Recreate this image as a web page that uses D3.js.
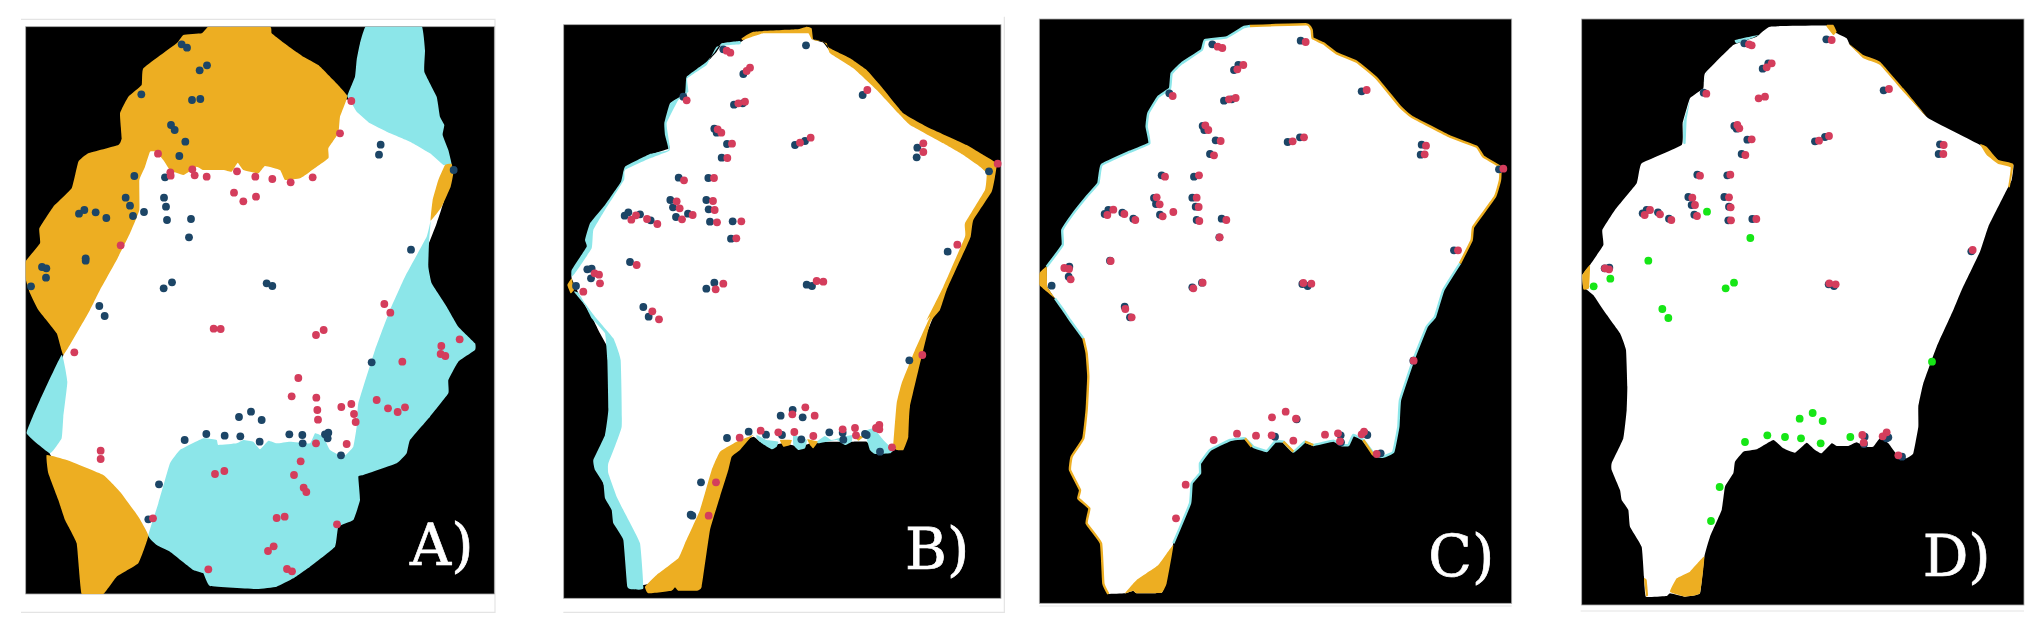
<!DOCTYPE html>
<html>
<head>
  <script src="https://d3js.org/d3.v7.min.js"></script>
  <style>
    html, body { margin: 0; padding: 0; background: white; overflow: hidden; }
    svg { display: block; }
    text { font-family: 'DejaVu Serif', serif; fill: white; stroke: white; stroke-width: 0.7; }
  </style>
</head>
<body>
<svg id="chart" width="2043" height="622"></svg>
<script>
  // everything below in trace units (3 units = 1 pixel),
  // low() is for points read from the lower half, which starts 900 units further down
  const low = pts => pts.map(p => [p[0], p[1] + 900]);

  // ---------- panel A
  const aWhite = [[600,300],[1020,270],[1320,465],[1280,640],[1060,1200],[1060,1300],[1055,1370],[900,1400],[600,1400],[415,1577],[120,1333],[160,1035],[300,700],[430,400]];
  const aOrangeTop = [[42,760],[90,700],[88,655],[130,590],[185,535],[205,455],[235,430],[325,405],[335,385],[330,310],[355,260],[395,225],[400,175],[500,100],[520,75],[575,70],[595,50],[650,50],[780,50],[785,70],[830,105],[880,140],[925,165],[970,210],[1012,258],[990,320],[985,370],[955,415],[955,445],[900,485],[870,505],[825,510],[810,480],[765,468],[745,490],[700,480],[683,458],[665,485],[640,480],[580,480],[560,470],[520,495],[480,480],[460,450],[440,425],[420,425],[405,470],[388,510],[388,600],[360,670],[320,750],[270,840],[240,900],[200,970],[160,1035],[140,970],[85,900],[60,850],[45,800]];
  const aOrangeRight = [[1325,462],[1305,465],[1285,510],[1268,570],[1262,632],[1295,590],[1322,530],[1330,490]];
  const aOrangeLow = low([[110,435],[115,490],[145,570],[165,630],[200,700],[215,852],[280,852],[320,800],[385,760],[415,677],[385,620],[330,545],[280,495],[170,450]]);
  const aCyanTop = [[1068,48],[1150,46],[1235,48],[1245,120],[1243,185],[1280,260],[1290,320],[1303,345],[1298,375],[1315,420],[1325,465],[1300,465],[1260,430],[1200,395],[1130,365],[1080,340],[1040,305],[1025,280],[1012,258],[1035,200],[1040,150],[1050,100]];
  const aCyanBig = [[1262,632],[1257,700],[1255,770],[1265,820],[1310,890]].concat(low([[1345,50],[1395,100],[1395,120],[1345,155],[1315,210],[1315,250],[1260,320],[1200,390],[1190,430],[1160,460],[1060,495],[1045,500],[1050,570],[1030,630],[985,650],[975,710],[900,770],[850,805],[800,830],[740,837],[600,828],[580,790],[550,780],[480,725],[440,705],[415,677],[445,580],[480,460],[510,420],[580,385],[620,390],[625,405],[680,400],[700,390],[730,395],[750,418],[775,392],[800,400],[840,395],[900,400],[915,370],[940,380],[960,420],[1000,440],[1030,410],[1040,350],[1045,280],[1095,120],[1140,0]])).concat([[1185,800],[1250,680]]);
  const aCyanLeft = low([[155,135],[172,215],[160,320],[155,385],[120,430],[50,370],[90,270]]);
  const aNavy = [[515,103],[531,113],[591,166],[569,181],[394,253],[571,267],[546,270],[483,345],[494,360],[526,395],[508,438],[373,498],[465,502],[347,563],[360,587],[462,563],[468,590],[207,611],[223,600],[257,607],[289,624],[369,618],[402,606],[471,630],[543,627],[537,682],[1112,404],[1107,434],[1331,480],[1203,719],[227,745],[227,752],[96,771],[109,775],[108,803],[63,829],[486,817],[461,835],[770,820],[787,828],[268,888],[284,918]]
    .concat(low([[1085,157],[687,321],[723,305],[755,330],[524,390],[589,372],[644,377],[691,379],[749,395],[838,373],[877,375],[878,400],[945,373],[955,368],[953,385],[993,436],[447,523],[415,628]]));
  const aRed = [[1024,273],[990,370],[444,431],[481,487],[482,497],[547,478],[554,496],[590,500],[681,484],[736,500],[787,507],[842,517],[908,502],[672,548],[700,574],[738,560],[332,706],[1123,882],[1141,908]]
    .concat(low([[611,56],[632,57],[918,75],[941,60],[1349,88],[1294,108],[1292,132],[1306,138],[1177,155],[193,127],[865,204],[845,259],[919,263],[1100,270],[1134,295],[1163,306],[1185,292],[994,291],[1024,282],[1032,312],[1037,336],[922,300],[924,329],[918,400],[1010,402],[272,422],[272,447],[872,454],[615,492],[643,483],[852,495],[881,533],[889,546],[800,624],[824,620],[429,625],[981,643],[791,709],[774,723],[595,778],[831,777],[846,784]]));

  // ---------- panel B
  const bWhite = [[570,98],[610,70],[740,65],[775,62],[788,88],[820,98],[838,120],[900,155],[948,190],[985,232],[1052,310],[1125,350],[1245,415],[1300,445],[1335,465],[1325,520],[1315,550],[1262,640],[1252,680],[1232,730],[1185,840],[1150,920]]
    .concat(low([[1110,120],[1060,280],[1050,400],[1040,415],[1010,425],[975,425],[950,395],[900,395],[860,395],[810,395],[780,400],[750,410],[700,400],[670,405],[630,395],[610,380],[540,410],[500,480],[470,600],[420,720],[310,815],[280,825],[250,830],[240,700],[195,610],[160,520],[150,460],[190,370],[190,150],[150,70],[120,10]]))
    .concat([[95,870],[65,805],[68,785],[112,712],[110,690],[122,650],[165,590],[216,515],[225,475],[300,435],[358,415],[350,375],[347,340],[362,280],[410,250],[410,205],[470,158],[500,125],[515,105]]);
  const bCyanTop = [[570,93],[515,100],[495,125],[470,155],[410,200],[405,250],[360,280],[343,340],[345,375],[355,420],[300,432],[225,470],[213,515],[165,585],[120,640],[105,690],[110,710],[65,780],[65,800],[75,790],[125,715],[130,660],[165,600],[222,510],[225,480],[300,445],[358,422],[358,400],[350,340],[385,270],[415,245],[412,205],[470,165],[500,110],[570,103]];
  const bCyanLeft = [[72,845],[105,885]].concat(low([[125,25],[165,70],[172,150],[175,300],[165,375],[130,450],[135,480],[160,520],[165,565],[185,600],[190,640],[220,690],[232,830],[250,838],[280,835],[270,700],[225,610],[200,560],[175,490],[175,460],[215,350],[212,150],[190,85],[135,20],[105,-20]]),[[85,848]]);
  const bOrangeNub = [[65,805],[52,825],[62,850],[72,840],[68,820]];
  const bOrangeRight = [[575,85],[610,65],[740,58],[770,50],[785,55],[790,90],[820,95],[840,115],[900,145],[950,180],[990,225],[1060,310],[1130,350],[1250,405],[1300,435],[1340,460],[1335,500],[1325,545],[1270,630],[1262,680],[1240,730],[1190,840],[1170,900]]
    .concat(low([[1140,40],[1080,290],[1075,380],[1060,420],[1040,420],[1030,405],[1040,280],[1055,220],[1095,120],[1140,20]]))
    .concat([[1130,930],[1180,830],[1245,680],[1245,640],[1305,540],[1310,490],[1290,470],[1240,435],[1180,400],[1080,345],[1045,310],[980,240],[910,175],[840,130],[830,100],[800,90],[785,88],[775,70],[740,70],[640,70],[580,90]]);
  const bOrangeLow = low([[285,830],[320,795],[385,745],[405,700],[450,600],[485,480],[510,425],[560,395],[610,375],[600,385],[570,420],[545,440],[535,480],[510,560],[480,660],[455,830],[440,842],[385,842],[375,832],[365,842],[295,850]]);
  const bBumpsCyan = [
    low([[620,375],[650,390],[685,395],[680,410],[665,418],[635,400],[620,385]]),
    low([[730,375],[770,390],[765,415],[745,420],[730,405]]),
    low([[800,395],[825,378],[845,390],[890,378],[908,375],[905,395],[885,405],[860,390],[805,400]]),
    low([[945,365],[970,355],[1000,390],[1030,420],[1020,430],[975,432],[960,420]])
  ];
  const bBumpsOrange = [
    low([[690,390],[725,390],[720,405],[700,410]]),
    low([[772,388],[803,395],[790,415],[780,405]]),
    low([[910,375],[940,380],[925,392]])
  ];
  const bNavy = [[520,118],[768,106],[580,192],[400,260],[552,284],[578,280],[938,255],[493,356],[500,368],[531,402],[515,443],[735,405],[765,393],[1102,413],[1100,442],[1317,484],[386,503],[475,504],[469,570],[361,570],[369,592],[476,598],[235,607],[224,617],[270,613],[302,631],[378,621],[414,611],[480,635],[548,634],[543,686],[240,756],[112,778],[125,776],[123,805],[78,828],[493,818],[469,836],[770,824],[786,828],[1193,725],[280,891],[296,920]]
    .concat(low([[1078,151],[692,317],[728,300],[758,322],[531,384],[596,365],[648,374],[696,375],[754,388],[838,367],[878,368],[880,389],[945,372],[950,375],[990,425],[453,517],[422,614],[427,617]]));
  const bRed = [[530,122],[541,128],[600,173],[590,183],[410,271],[565,280],[585,275],[952,240],[503,358],[514,368],[546,401],[532,444],[750,398],[782,383],[1120,400],[1120,426],[1343,461],[402,511],[492,504],[380,574],[389,595],[489,573],[494,600],[258,616],[244,629],[291,627],[322,642],[396,628],[428,615],[501,637],[574,634],[559,685],[1222,704],[260,765],[134,790],[147,794],[150,820],[100,845],[520,821],[497,838],[800,813],[820,815],[307,904],[327,928]]
    .concat(low([[1117,135],[766,292],[794,317],[727,313],[569,383],[632,362],[685,367],[733,366],[790,378],[878,358],[915,354],[918,376],[988,345],[988,358],[978,354],[1026,412],[498,517],[476,617]]));

  // ---------- panel C
  const cEdgeTopRight = [[660,48],[830,43],[845,60],[848,85],[880,100],[920,130],[980,155],[1040,205],[1110,290],[1145,320],[1260,380],[1340,410],[1360,440],[1410,470],[1410,510],[1395,560],[1330,650],[1325,690],[1290,760]];
  const cEdgeRight = [[1290,760],[1240,840],[1215,920]].concat(low([[1190,50],[1150,150],[1110,270],[1105,350],[1090,425],[1060,440],[1035,435],[1000,390],[970,375],[955,405],[935,405],[910,392],[850,405],[825,395],[790,425],[760,395],[735,395],[710,423],[670,410],[645,385],[600,390],[540,420],[510,460],[510,490],[485,520],[480,580],[430,700]]));
  const cEdgeFoot = low([[430,700],[405,820],[395,848],[320,850],[310,842],[285,850],[235,852]]);
  const cEdgeLeft = low([[235,852],[220,820],[213,700],[170,640],[178,595],[145,565],[150,540],[120,480],[125,440],[160,385],[170,300],[175,200],[170,130],[160,85]]);
  const cEdgeShoulder = low([[160,85],[120,30],[100,0]]).concat([[75,865]]);
  const cEdgeNub = [[75,865],[52,830],[50,770]];
  const cEdgeTopLeft = [[50,770],[98,705],[97,660],[130,610],[170,560],[205,520],[215,465],[300,425],[358,400],[350,350],[355,310],[385,260],[420,235],[425,190],[455,160],[515,120],[525,90],[590,82],[640,52],[660,48]];
  const cNubOrange = [[28,790],[50,770],[52,830],[75,865],[28,825]];
  const cFootOrange = low([[430,705],[410,820],[395,848],[320,850],[310,842],[285,850],[320,810],[385,765]]);
  const cDipsOrange = [
    low([[645,385],[665,410]]),
    low([[760,395],[790,425]]),
    low([[825,395],[850,405]]),
    low([[1000,390],[1030,435]])
  ];
  const cNavy = [[547,103],[812,92],[612,180],[625,165],[418,250],[582,272],[605,268],[995,244],[518,348],[523,360],[557,391],[540,432],[773,396],[810,382],[1175,404],[1172,434],[1407,478],[395,496],[492,500],[372,564],[487,563],[378,582],[497,590],[235,600],[224,612],[277,608],[310,626],[390,614],[500,630],[575,626],[568,682],[240,752],[118,770],[116,800],[65,827],[487,832],[516,818],[817,822],[833,828],[1272,721],[284,890],[300,922]]
    .concat(low([[1150,152],[735,380],[1012,375],[1005,370],[932,376],[1052,430],[933,397],[800,328]]));
  const cRed = [[563,110],[577,114],[827,96],[640,165],[622,178],[428,258],[597,268],[617,264],[1010,240],[526,346],[535,360],[572,393],[552,436],[788,394],[822,382],[1188,407],[1184,433],[1420,476],[405,500],[507,496],[380,562],[389,583],[500,563],[506,591],[250,599],[232,615],[283,612],[316,630],[398,619],[430,606],[508,633],[589,630],[569,682],[242,753],[103,774],[117,777],[122,808],[490,835],[518,818],[820,819],[844,821],[1284,721],[286,897],[305,922]]
    .concat(low([[726,322],[767,305],[798,326],[551,390],[621,371],[678,377],[725,376],[790,392],[885,374],[924,370],[930,394],[1002,365],[995,373],[1040,432],[467,524],[438,625],[1151,152]]));

  // ---------- panel D
  const dOutline = [[600,50],[770,47],[800,70],[830,85],[840,105],[880,140],[930,160],[1000,240],[1075,325],[1230,405],[1290,455],[1330,465],[1325,510],[1310,540],[1255,650],[1230,725],[1175,840],[1150,900]]
    .concat(low([[1100,110],[1060,220],[1045,290],[1045,350],[1030,430],[1010,445],[985,440],[955,400],[930,385],[910,410],[885,410],[860,397],[835,408],[800,408],[785,400],[755,430],[735,420],[710,398],[675,428],[640,415],[610,390],[560,418],[520,425],[495,455],[490,490],[465,530],[455,600],[420,680],[403,740],[390,850],[345,860],[300,850],[290,858],[228,860],[222,800],[215,710],[180,650],[175,600],[155,570],[150,540],[125,480],[125,460],[160,385],[170,300],[172,230],[168,120],[150,70],[100,0]]))
    .concat([[70,855],[40,830],[37,795],[60,765],[100,705],[97,660],[135,600],[200,520],[215,460],[335,405],[338,340],[360,265],[400,235],[405,190],[490,105],[560,80]]);
  const dOrange = [
    [[37,795],[60,765],[57,835],[40,838]],
    [[770,45],[790,45],[800,65],[790,75],[770,50]],
    [[835,100],[880,135],[930,155],[1000,235],[1070,320],[1000,245],[930,165],[880,145]],
    [[1230,402],[1250,410],[1285,450],[1330,462],[1320,530],[1315,530],[1322,472],[1285,462],[1250,435]],
    low([[403,740],[390,850],[345,860],[300,845],[320,805],[360,785]]),
    low([[222,805],[228,858],[234,856],[230,810]])
  ];
  const dCyan = [
    [[495,90],[565,75],[545,85],[500,100]],
    [[400,225],[410,190],[415,180],[405,205]],
    [[340,400],[340,340],[360,270],[350,330],[347,400]]
  ];
  const dNavy = [[523,100],[769,88],[578,176],[595,160],[401,248],[941,241],[493,348],[500,356],[532,389],[515,432],[735,394],[765,381],[1110,403],[1106,432],[382,494],[472,496],[355,561],[463,561],[365,585],[477,590],[230,600],[218,610],[264,607],[297,626],[373,614],[475,631],[547,627],[104,775],[118,773],[776,823],[792,828],[1204,724]]
    .concat(low([[884,380],[882,402],[955,382],[950,385],[996,440]]));
  const dRed = [[537,103],[545,106],[785,90],[605,160],[590,172],[409,251],[566,265],[585,260],[957,237],[502,345],[508,355],[545,388],[526,435],[747,392],[777,378],[1121,405],[1120,432],[390,497],[481,494],[367,563],[375,585],[477,562],[482,592],[240,600],[224,615],[270,613],[304,630],[381,618],[483,631],[559,627],[117,778],[105,775],[778,820],[797,823],[1208,720]]
    .concat(low([[877,375],[881,398],[950,367],[938,379],[985,436]]));
  const dGreen = [[411,605],[541,684],[235,752],[121,806],[71,829],[492,818],[467,835],[277,897],[295,924]]
    .concat(low([[1086,155],[689,326],[728,309],[758,333],[525,396],[592,376],[645,381],[693,385],[752,400],[841,381],[449,531],[423,633]]));

  const navyCol = '#1c4566', redCol = '#d43c5c', orangeCol = '#edae21', cyanCol = '#8ce6e9', greenCol = '#14e614';

  const panels = [
    { left: 10, frame: [47,50,1453,1752], label: 'A)', labelAt: [1200,1665],
      rules: [[[33,28],[1455,28],[1455,1807],[33,1807]]],
      white: aWhite, cyan: [aCyanTop, aCyanBig, aCyanLeft], orange: [aOrangeTop, aOrangeRight, aOrangeLow],
      navy: aNavy, red: aRed },
    { left: 550, frame: [41,44,1353,1765], label: 'B)', labelAt: [1065,1676],
      rules: [[[1363,20],[1363,1807],[40,1807]]],
      white: bWhite, cyan: [bCyanTop, bCyanLeft].concat(bBumpsCyan), orange: [bOrangeNub, bOrangeRight, bOrangeLow].concat(bBumpsOrange),
      navy: bNavy, red: bRed },
    { left: 1030, frame: [28,27,1445,1780], label: 'C)', labelAt: [1195,1698],
      rules: [[[28,1788],[1445,1788]]],
      white: [].concat(cEdgeTopRight, cEdgeRight, cEdgeFoot, cEdgeLeft, cEdgeShoulder, cEdgeNub, cEdgeTopLeft),
      cyan: [], orange: [cNubOrange, cFootOrange],
      cyanLines: [cEdgeTopLeft, cEdgeRight, cEdgeShoulder], orangeLines: [cEdgeTopRight, cEdgeLeft].concat(cDipsOrange),
      navy: cNavy, red: cRed },
    { left: 1570, frame: [35,27,1362,1785], label: 'D)', labelAt: [1058,1698],
      rules: [[[32,1803],[1362,1803]]],
      white: dOutline, cyan: dCyan, orange: dOrange,
      navy: dNavy, red: dRed, green: dGreen }
  ];

  const svg = d3.select('#chart');
  const defs = svg.append('defs');
  defs.append('filter').attr('id', 'soft')
    .attr('x', '-2%').attr('y', '-2%').attr('width', '104%').attr('height', '104%')
    .append('feGaussianBlur').attr('stdDeviation', 0.55);

  const root = svg.append('g').attr('filter', 'url(#soft)');

  panels.forEach(function (p, i) {
    const x = d3.scaleLinear().domain([0, 1500]).range([p.left, p.left + 500]);
    const y = d3.scaleLinear().domain([0, 1800]).range([10, 610]);
    // tight cardinal splines: round the corners a little, no bulge like catmull-rom
    const shape = d3.line().x(d => x(d[0])).y(d => y(d[1])).curve(d3.curveCardinalClosed.tension(0.7));
    const open = d3.line().x(d => x(d[0])).y(d => y(d[1])).curve(d3.curveCardinal.tension(0.7));
    const rule = d3.line().x(d => x(d[0])).y(d => y(d[1]));
    const g = root.append('g');

    const fx = x(p.frame[0]), fy = y(p.frame[1]), fw = x(p.frame[2]) - fx, fh = y(p.frame[3]) - fy;
    defs.append('clipPath').attr('id', 'clip' + i).append('rect')
      .attr('x', fx).attr('y', fy).attr('width', fw).attr('height', fh);

    g.selectAll('path.rule').data(p.rules).join('path').attr('class', 'rule')
      .attr('d', rule).attr('fill', 'none').attr('stroke', '#e4e4e4').attr('stroke-width', 1.2);

    g.append('rect')
      .attr('x', fx).attr('y', fy).attr('width', fw).attr('height', fh)
      .attr('fill', 'black').attr('stroke', '#aaa').attr('stroke-width', 0.8);

    const land = g.append('g').attr('clip-path', 'url(#clip' + i + ')');
    land.append('path').attr('d', shape(p.white)).attr('fill', 'white');
    land.selectAll('path.cy').data(p.cyan).join('path').attr('class', 'cy').attr('d', shape).attr('fill', cyanCol);
    land.selectAll('path.or').data(p.orange).join('path').attr('class', 'or').attr('d', shape).attr('fill', orangeCol);
    land.selectAll('path.cl').data(p.cyanLines || []).join('path').attr('class', 'cl').attr('d', open)
      .attr('fill', 'none').attr('stroke', cyanCol).attr('stroke-width', 2.4);
    land.selectAll('path.ol').data(p.orangeLines || []).join('path').attr('class', 'ol').attr('d', open)
      .attr('fill', 'none').attr('stroke', orangeCol).attr('stroke-width', 2.4);

    [[p.navy, navyCol], [p.red, redCol], [p.green || [], greenCol]].forEach(function (s) {
      g.append('g').selectAll('circle').data(s[0]).join('circle')
        .attr('cx', d => x(d[0])).attr('cy', d => y(d[1]))
        .attr('r', 3.9).attr('fill', s[1]);
    });

    g.append('text').attr('x', x(p.labelAt[0])).attr('y', y(p.labelAt[1]))
      .attr('font-size', 57).text(p.label);
  });
</script>
</body>
</html>
